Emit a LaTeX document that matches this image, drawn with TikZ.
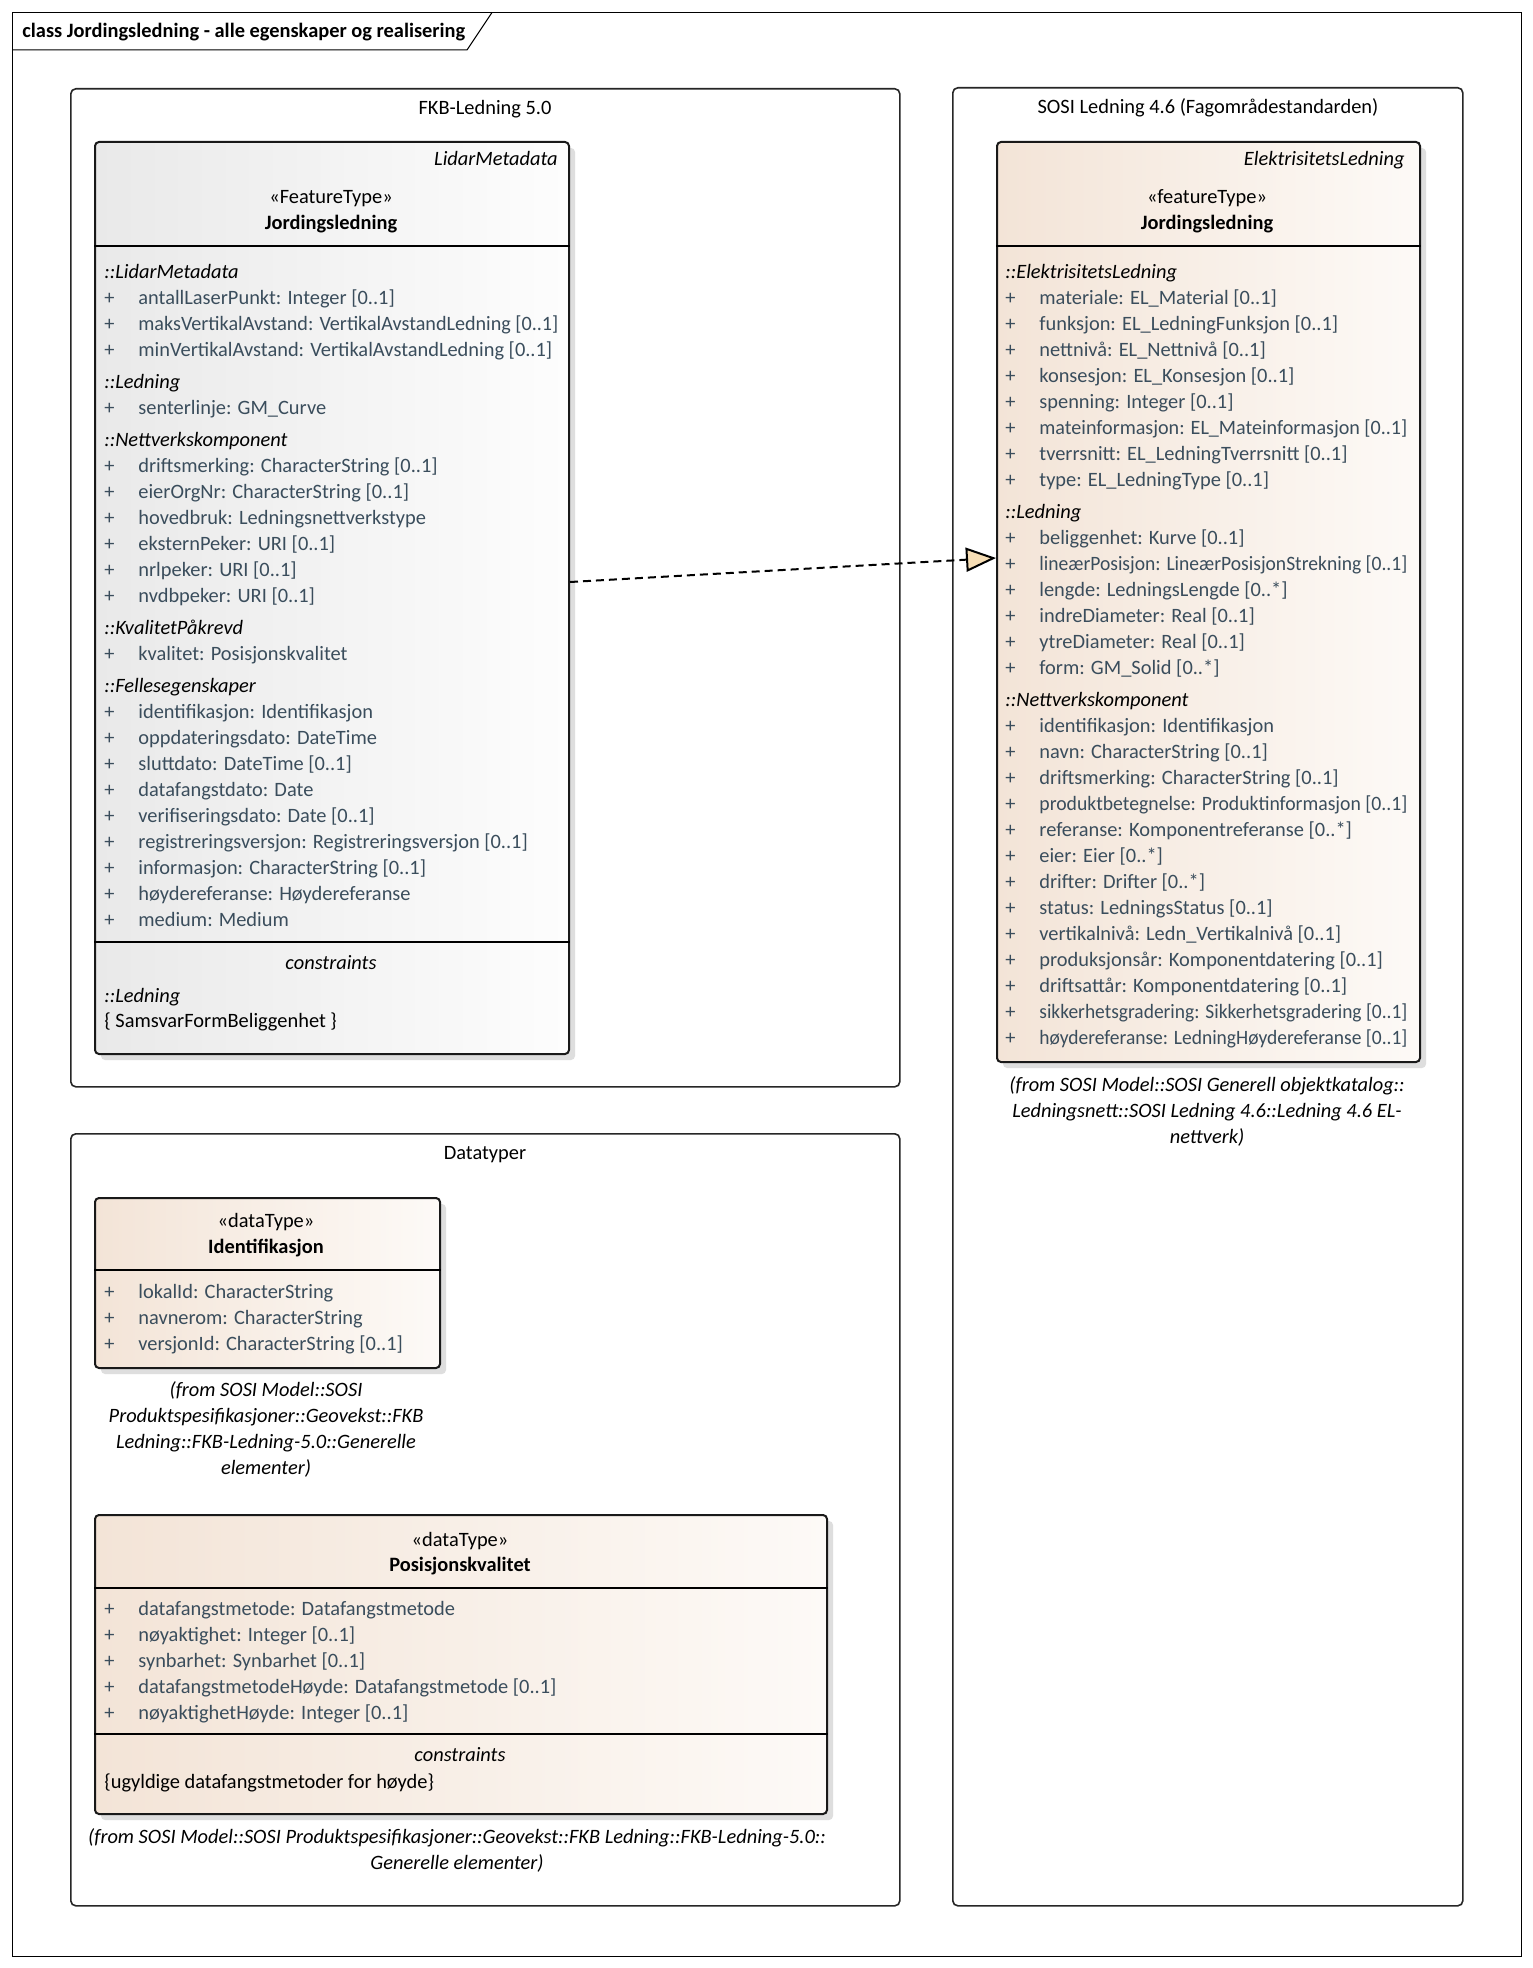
\documentclass[tikz,border=0pt]{standalone}
\usepackage{fontspec}
\setmainfont{Carlito}
\usepackage{graphicx}
\usetikzlibrary{arrows.meta,shadows}
\newsavebox\fitbox
\newcommand\fitto[2]{\sbox\fitbox{#2}\ifdim\wd\fitbox>#1\relax\resizebox{#1}{\ht\fitbox}{\usebox\fitbox}\else\usebox\fitbox\fi}
\newcommand\fs{\fontsize{10.2}{12}\selectfont}
\definecolor{attrc}{HTML}{3A4D5C}
\definecolor{grayL}{HTML}{E9E9E9}
\definecolor{grayR}{HTML}{FDFDFD}
\definecolor{peachL}{HTML}{F3E4D7}
\definecolor{peachR}{HTML}{FDFAF7}
\definecolor{tipfill}{HTML}{F7DEB5}
\def\maxw{210pt}
\newcommand\grp[4]{\node[grpst] (#1) at (#2,#3) {#4};}
\newcommand\att[4]{\node[plusst] (#1p) at (#2,#3) {+}; \node[attst] (#1) at ({#2+34},#3) {\fitto{\maxw}{#4}};}
\begin{document}
\begin{tikzpicture}[x=0.5pt,y=-0.5pt,
  every node/.style={font=\fs, inner sep=0pt, text height=6.5pt, text depth=0pt},
  grpst/.style={anchor=west, font=\fs\itshape},
  attst/.style={anchor=west, font=\fs, text=attrc},
  plusst/.style={anchor=west, font=\fs, text=attrc},
  ctr/.style={anchor=center, font=\fs},
  itc/.style={anchor=center, font=\fs\itshape},
  bld/.style={anchor=center, font=\fs\bfseries},
  pkg/.style={draw=black!85, line width=0.8pt, rounded corners=2.5pt, anchor=north west, fill=white},
  cls/.style={draw=black!90, line width=1pt, rounded corners=2pt, anchor=north west,
     drop shadow={shadow xshift=3pt, shadow yshift=-3pt, fill=black!13, opacity=1}},
  graycls/.style={cls, left color=grayL, right color=grayR},
  peachcls/.style={cls, left color=peachL, right color=peachR},
  sep/.style={draw=black, line width=1pt},
  realize/.style={draw=black, line width=1pt, dash pattern=on 4pt off 2.5pt,
     -{Triangle[length=15pt, width=12pt, fill=tipfill]}}
]
\useasboundingbox (0,0) rectangle (1532,1968);
\fill[white] (0,0) rectangle (1532,1968);

% outer frame
\draw[line width=0.5pt] (12.5,12.5) rectangle (1521,1956);
\draw[line width=0.5pt] (12.5,50) -- (467,50) -- (492,12.5);
\node[anchor=west, font=\fs\bfseries] (title) at (22,31) {class Jordingsledning - alle egenskaper og realisering};

% packages
\node[pkg, minimum width=414.5pt, minimum height=499pt] (fkb) at (70,88) {};
\node[ctr] (fkbt) at (485,108) {FKB-Ledning 5.0};
\node[pkg, minimum width=414.5pt, minimum height=386pt] (dat) at (70,1133) {};
\node[ctr] (datt) at (485,1153) {Datatyper};
\node[pkg, minimum width=255pt, minimum height=909pt] (sosi) at (952,87) {};
\node[ctr] (sosit) at (1208,107) {SOSI Ledning 4.6 (Fagområdestandarden)};

% ---------- left class ----------
\node[graycls, minimum width=237pt, minimum height=456pt] (lidar) at (94,141) {};
\draw[sep] (lidar.west |- 0,246) -- (lidar.east |- 0,246);
\draw[sep] (lidar.west |- 0,942) -- (lidar.east |- 0,942);
\node[grpst, anchor=east] (lidarst) at (558,159) {LidarMetadata};
\node[ctr] (lidarster) at (331,197) {«FeatureType»};
\node[bld] (lidarname) at (331,223) {Jordingsledning};
\def\maxw{210pt}
\grp{lg1}{104}{272}{::LidarMetadata}
\att{la1}{104}{298}{antallLaserPunkt: Integer [0..1]}
\att{la2}{104}{324}{maksVertikalAvstand: VertikalAvstandLedning [0..1]}
\att{la3}{104}{350}{minVertikalAvstand: VertikalAvstandLedning [0..1]}
\grp{lg2}{104}{382}{::Ledning}
\att{la4}{104}{408}{senterlinje: GM\_Curve}
\grp{lg3}{104}{440}{::Nettverkskomponent}
\att{la5}{104}{466}{driftsmerking: CharacterString [0..1]}
\att{la6}{104}{492}{eierOrgNr: CharacterString [0..1]}
\att{la7}{104}{518}{hovedbruk: Ledningsnettverkstype}
\att{la8}{104}{544}{eksternPeker: URI [0..1]}
\att{la9}{104}{570}{nrlpeker: URI [0..1]}
\att{la10}{104}{596}{nvdbpeker: URI [0..1]}
\grp{lg4}{104}{628}{::KvalitetPåkrevd}
\att{la11}{104}{654}{kvalitet: Posisjonskvalitet}
\grp{lg5}{104}{686}{::Fellesegenskaper}
\att{la12}{104}{712}{identifikasjon: Identifikasjon}
\att{la13}{104}{738}{oppdateringsdato: DateTime}
\att{la14}{104}{764}{sluttdato: DateTime [0..1]}
\att{la15}{104}{790}{datafangstdato: Date}
\att{la16}{104}{816}{verifiseringsdato: Date [0..1]}
\att{la17}{104}{842}{registreringsversjon: Registreringsversjon [0..1]}
\att{la18}{104}{868}{informasjon: CharacterString [0..1]}
\att{la19}{104}{894}{høydereferanse: Høydereferanse}
\att{la20}{104}{920}{medium: Medium}
\node[itc] (lcon) at (331,963) {constraints};
\grp{lg6}{104}{996}{::Ledning}
\node[anchor=west] (lconv) at (104,1021) {\{ SamsvarFormBeliggenhet \}};

% ---------- right class ----------
\node[peachcls, minimum width=211.5pt, minimum height=460pt] (elk) at (996,141) {};
\draw[sep] (elk.west |- 0,246) -- (elk.east |- 0,246);
\node[grpst, anchor=east] (elkst) at (1405,159) {ElektrisitetsLedning};
\node[ctr] (elkster) at (1207,197) {«featureType»};
\node[bld] (elkname) at (1207,223) {Jordingsledning};
\def\maxw{184pt}
\grp{rg1}{1005}{272}{::ElektrisitetsLedning}
\att{ra1}{1005}{298}{materiale: EL\_Material [0..1]}
\att{ra2}{1005}{324}{funksjon: EL\_LedningFunksjon [0..1]}
\att{ra3}{1005}{350}{nettnivå: EL\_Nettnivå [0..1]}
\att{ra4}{1005}{376}{konsesjon: EL\_Konsesjon [0..1]}
\att{ra5}{1005}{402}{spenning: Integer [0..1]}
\att{ra6}{1005}{428}{mateinformasjon: EL\_Mateinformasjon [0..1]}
\att{ra7}{1005}{454}{tverrsnitt: EL\_LedningTverrsnitt [0..1]}
\att{ra8}{1005}{480}{type: EL\_LedningType [0..1]}
\grp{rg2}{1005}{512}{::Ledning}
\att{ra9}{1005}{538}{beliggenhet: Kurve [0..1]}
\att{ra10}{1005}{564}{lineærPosisjon: LineærPosisjonStrekning [0..1]}
\att{ra11}{1005}{590}{lengde: LedningsLengde [0..*]}
\att{ra12}{1005}{616}{indreDiameter: Real [0..1]}
\att{ra13}{1005}{642}{ytreDiameter: Real [0..1]}
\att{ra14}{1005}{668}{form: GM\_Solid [0..*]}
\grp{rg3}{1005}{700}{::Nettverkskomponent}
\att{ra15}{1005}{726}{identifikasjon: Identifikasjon}
\att{ra16}{1005}{752}{navn: CharacterString [0..1]}
\att{ra17}{1005}{778}{driftsmerking: CharacterString [0..1]}
\att{ra18}{1005}{804}{produktbetegnelse: Produktinformasjon [0..1]}
\att{ra19}{1005}{830}{referanse: Komponentreferanse [0..*]}
\att{ra20}{1005}{856}{eier: Eier [0..*]}
\att{ra21}{1005}{882}{drifter: Drifter [0..*]}
\att{ra22}{1005}{908}{status: LedningsStatus [0..1]}
\att{ra23}{1005}{934}{vertikalnivå: Ledn\_Vertikalnivå [0..1]}
\att{ra24}{1005}{960}{produksjonsår: Komponentdatering [0..1]}
\att{ra25}{1005}{986}{driftsattår: Komponentdatering [0..1]}
\att{ra26}{1005}{1012}{sikkerhetsgradering: Sikkerhetsgradering [0..1]}
\att{ra27}{1005}{1038}{høydereferanse: LedningHøydereferanse [0..1]}
\node[itc] (rf1) at (1207,1085) {(from SOSI Model::SOSI Generell objektkatalog::};
\node[itc] (rf2) at (1207,1111) {Ledningsnett::SOSI Ledning 4.6::Ledning 4.6 EL-};
\node[itc] (rf3) at (1207,1137) {nettverk)};

% ---------- Identifikasjon ----------
\node[peachcls, minimum width=172.5pt, minimum height=85pt] (ident) at (94,1197) {};
\draw[sep] (ident.west |- 0,1270) -- (ident.east |- 0,1270);
\node[ctr] (identst) at (266,1221) {«dataType»};
\node[bld] (identname) at (266,1247) {Identifikasjon};
\def\maxw{190pt}
\att{ia1}{104}{1292}{lokalId: CharacterString}
\att{ia2}{104}{1318}{navnerom: CharacterString}
\att{ia3}{104}{1344}{versjonId: CharacterString [0..1]}
\node[itc] (if1) at (266,1390) {(from SOSI Model::SOSI};
\node[itc] (if2) at (266,1416) {Produktspesifikasjoner::Geovekst::FKB};
\node[itc] (if3) at (266,1442) {Ledning::FKB-Ledning-5.0::Generelle};
\node[itc] (if4) at (266,1468) {elementer)};

% ---------- Posisjonskvalitet ----------
\node[peachcls, minimum width=366pt, minimum height=149.5pt] (posk) at (94,1514) {};
\draw[sep] (posk.west |- 0,1588) -- (posk.east |- 0,1588);
\draw[sep] (posk.west |- 0,1734) -- (posk.east |- 0,1734);
\node[ctr] (poskst) at (460,1540) {«dataType»};
\node[bld] (poskname) at (460,1565) {Posisjonskvalitet};
\def\maxw{340pt}
\att{pa1}{104}{1609}{datafangstmetode: Datafangstmetode}
\att{pa2}{104}{1635}{nøyaktighet: Integer [0..1]}
\att{pa3}{104}{1661}{synbarhet: Synbarhet [0..1]}
\att{pa4}{104}{1687}{datafangstmetodeHøyde: Datafangstmetode [0..1]}
\att{pa5}{104}{1713}{nøyaktighetHøyde: Integer [0..1]}
\node[itc] (pcon) at (460,1755) {constraints};
\node[anchor=west] (pconv) at (104,1782) {\{ugyldige datafangstmetoder for høyde\}};
\node[itc] (pf1) at (457,1837) {(from SOSI Model::SOSI Produktspesifikasjoner::Geovekst::FKB Ledning::FKB-Ledning-5.0::};
\node[itc] (pf2) at (457,1863) {Generelle elementer)};

% ---------- realization ----------
\coordinate (src) at (0,582);
\coordinate (dst) at (0,558);
\draw[realize] (lidar.east |- src) -- (elk.west |- dst);
\end{tikzpicture}
\end{document}
